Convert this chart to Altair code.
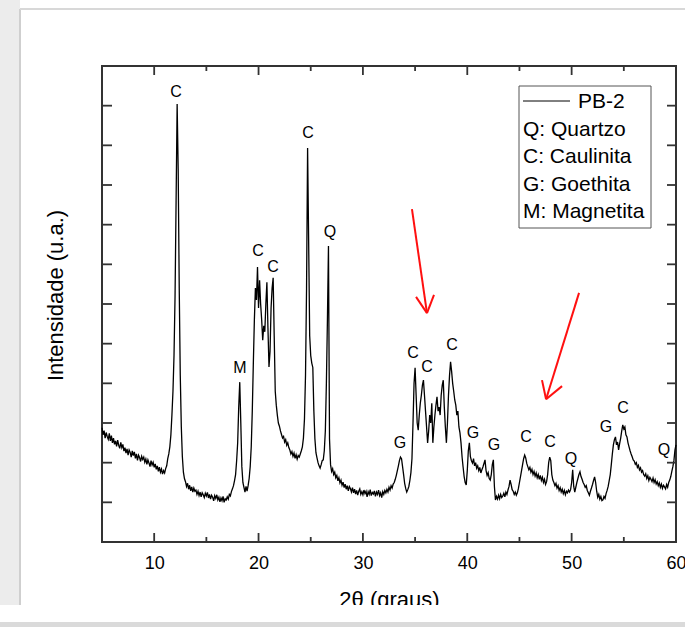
import altair as alt
import pandas as pd

# ---------------- data ----------------
# PB-2 diffractogram, intensity (counts, arbitrary) sampled every 0.1 deg 2-theta
seg_05 = [288, 270, 281, 262, 276, 266, 259, 274, 255, 268,
          250, 262, 246, 255, 241, 257, 244, 236, 251, 238,
          246, 229, 238, 224, 235, 219, 232, 226, 214, 230,
          218, 227, 211, 222, 206, 219, 213, 203, 216, 208,
          214, 201, 209, 196, 207, 199, 190, 205, 194, 201]
seg_10 = [188, 197, 183, 192, 178, 189, 176, 184, 171, 180,
          174, 185, 192, 210, 222, 240, 270, 320, 380, 470,
          620, 860, 1104, 940, 640, 420, 290, 215, 176, 160,
          152, 140, 148, 133, 143, 129, 139, 126, 136, 128,
          131, 120, 128, 117, 126, 114, 124, 119, 112, 123]
seg_15 = [116, 125, 111, 120, 108, 118, 113, 104, 117, 110,
          119, 106, 113, 101, 111, 104, 115, 100, 109, 106,
          114, 108, 120, 116, 127, 134, 142, 155, 170, 205,
          250, 340, 403, 300, 190, 150, 138, 126, 140, 128,
          142, 160, 190, 240, 330, 450, 560, 640, 610, 693]
seg_20 = [590, 660, 600, 560, 509, 545, 530, 600, 655, 540,
          441, 480, 590, 640, 666, 520, 380, 345, 320, 300,
          292, 280, 271, 262, 266, 252, 258, 244, 250, 238,
          232, 222, 228, 216, 224, 211, 220, 209, 218, 214,
          222, 230, 240, 262, 310, 420, 640, 993, 760, 520]
seg_25 = [470, 451, 440, 330, 260, 225, 212, 200, 192, 186,
          195, 205, 207, 230, 280, 400, 560, 746, 260, 195,
          178, 185, 170, 176, 162, 168, 154, 162, 149, 156,
          143, 151, 137, 146, 133, 142, 129, 140, 135, 126,
          137, 124, 133, 121, 130, 118, 128, 134, 120, 127]
seg_30 = [119, 131, 122, 128, 114, 127, 120, 132, 117, 125,
          121, 129, 115, 126, 120, 131, 117, 124, 112, 127,
          120, 130, 124, 133, 126, 138, 131, 142, 136, 146,
          150, 158, 168, 180, 192, 205, 214, 210, 190, 170,
          148, 135, 126, 132, 140, 155, 175, 210, 300, 400]
seg_35 = [439, 370, 300, 282, 320, 350, 370, 395, 408, 370,
          330, 290, 250, 280, 320, 300, 350, 250, 290, 320,
          345, 366, 330, 340, 320, 370, 395, 408, 340, 290,
          250, 300, 370, 420, 454, 430, 400, 380, 358, 345,
          320, 330, 290, 275, 250, 215, 189, 165, 150, 144]
seg_40 = [180, 230, 250, 215, 205, 199, 210, 192, 200, 186,
          192, 180, 188, 174, 182, 189, 198, 207, 180, 168,
          175, 160, 156, 170, 195, 207, 140, 106, 115, 108,
          118, 109, 120, 112, 116, 123, 114, 126, 120, 131,
          140, 156, 145, 132, 128, 120, 126, 118, 124, 135]
seg_45 = [150, 165, 180, 195, 210, 219, 212, 198, 190, 182,
          188, 176, 183, 170, 178, 166, 174, 162, 170, 158,
          168, 155, 163, 150, 158, 145, 152, 170, 200, 214,
          205, 170, 156, 150, 142, 148, 136, 142, 130, 137,
          126, 133, 122, 130, 119, 128, 124, 131, 126, 132]
seg_50 = [150, 182, 140, 126, 138, 150, 160, 170, 177, 165,
          158, 150, 145, 138, 142, 130, 124, 118, 128, 136,
          145, 155, 164, 150, 128, 113, 120, 108, 115, 104,
          106, 115, 110, 122, 130, 140, 155, 170, 195, 222,
          245, 258, 265, 245, 252, 232, 248, 262, 280, 295]
seg_55 = [285, 290, 270, 265, 250, 240, 230, 222, 215, 207,
          204, 196, 200, 188, 193, 182, 187, 176, 180, 170,
          166, 172, 160, 167, 155, 163, 158, 152, 161, 150,
          157, 146, 152, 142, 149, 138, 146, 135, 143, 139,
          134, 145, 138, 150, 156, 165, 178, 190, 205, 232]
seg_60 = [245]
scan_start = 5.0
scan_step = 0.1

# phase labels above the peaks
peak_letters = ["C", "C", "Q", "C", "C", "M", "G", "C", "C", "C",
                "G", "G", "C", "C", "Q", "G", "C", "Q"]
peak_x = [12.1, 24.74, 26.85, 19.95, 21.39, 18.22, 33.55, 34.8, 36.14, 38.54,
          40.55, 42.56, 45.63, 47.93, 49.94, 53.29, 54.92, 58.85]
peak_y = [1134, 1031, 781, 734, 693, 439, 250, 476, 441, 497,
          275, 245, 265, 252, 209, 290, 338, 232]

# red arrows (segments): shaft + two head strokes each
arrow_x = [34.70, 35.09, 36.81, 50.71, 47.16, 49.08]
arrow_y = [839, 618, 623, 628, 408, 393]
arrow_x2 = [36.14, 36.14, 36.14, 47.55, 47.55, 47.55]
arrow_y2 = [577, 577, 577, 360, 360, 360]

x_major = [10, 20, 30, 40, 50, 60]
x_minor = [15, 25, 35, 45, 55]
y_ticks = [100, 200, 300, 400, 500, 600, 700, 800, 900, 1000, 1100]

series_name = "PB-2"
legend_notes = ["Q: Quartzo", "C: Caulinita", "G: Goethita", "M: Magnetita"]

# ---------------- chart ----------------
W, H = 574, 476
FONT = "Liberation Sans"
INK = "#333333"

intensity = (seg_05 + seg_10 + seg_15 + seg_20 + seg_25 + seg_30 + seg_35
             + seg_40 + seg_45 + seg_50 + seg_55 + seg_60)
two_theta = [round(scan_start + i * scan_step, 1) for i in range(len(intensity))]

xscale = alt.Scale(domain=[5, 60], nice=False, zero=False)
yscale = alt.Scale(domain=[0, 1200], nice=False, zero=True)

xaxis = alt.Axis(values=x_major, format="d", labelFont=FONT, labelFontSize=18,
                 labelColor="black", labelPadding=12, labelFlush=False,
                 ticks=False, tickSize=0, domain=False, grid=False,
                 title="2θ (graus)", titleFont=FONT, titleFontSize=22,
                 titleFontWeight="normal", titleColor="black",
                 titleBaseline="alphabetic", titleY=64, zindex=0)
yaxis = alt.Axis(labels=False, ticks=False, tickSize=0, domain=False, grid=False,
                 title="Intensidade (u.a.)", titleFont=FONT, titleFontSize=22,
                 titleFontWeight="normal", titleColor="black",
                 titleBaseline="alphabetic", titleX=-40, titleY=229, zindex=0)


def X(field):
    return alt.X(field, type="quantitative", scale=xscale, axis=xaxis)


def Y(field):
    return alt.Y(field, type="quantitative", scale=yscale, axis=yaxis)


one = pd.DataFrame({"k": [0]})

scan = pd.DataFrame({"two_theta": two_theta, "intensity": intensity})
line = alt.Chart(scan).mark_line(color="black", strokeWidth=1.3).encode(
    x=X("two_theta"), y=Y("intensity"))

labels_df = pd.DataFrame({"two_theta": peak_x, "intensity": peak_y, "phase": peak_letters})
labels = alt.Chart(labels_df).mark_text(font=FONT, fontSize=16, color="black",
                                        baseline="middle", align="center").encode(
    x=X("two_theta"), y=Y("intensity"), text="phase:N")

arrows_df = pd.DataFrame({"two_theta": arrow_x, "intensity": arrow_y,
                          "x2": arrow_x2, "y2": arrow_y2})
arrows = alt.Chart(arrows_df).mark_rule(color="#ff1010", strokeWidth=2).encode(
    x=X("two_theta"), y=Y("intensity"), x2="x2:Q", y2="y2:Q")

# inward ticks on all four sides
xmaj = pd.DataFrame({"two_theta": x_major})
xmin = pd.DataFrame({"two_theta": x_minor})
yt = pd.DataFrame({"intensity": y_ticks})
tick_style = dict(color=INK, strokeWidth=1.8)
ticks = [
    alt.Chart(xmaj).mark_rule(**tick_style).encode(x=X("two_theta"), y=alt.value(H), y2=alt.value(H - 9)),
    alt.Chart(xmaj).mark_rule(**tick_style).encode(x=X("two_theta"), y=alt.value(0), y2=alt.value(9)),
    alt.Chart(xmin).mark_rule(**tick_style).encode(x=X("two_theta"), y=alt.value(H), y2=alt.value(H - 5)),
    alt.Chart(xmin).mark_rule(**tick_style).encode(x=X("two_theta"), y=alt.value(0), y2=alt.value(5)),
    alt.Chart(yt).mark_rule(**tick_style).encode(y=Y("intensity"), x=alt.value(0), x2=alt.value(10)),
    alt.Chart(yt).mark_rule(**tick_style).encode(y=Y("intensity"), x=alt.value(W), x2=alt.value(W - 9)),
]

# legend box
leg_box = alt.Chart(one).mark_rect(fill="white", stroke="#555555", strokeWidth=1).encode(
    x=alt.value(417), x2=alt.value(549), y=alt.value(20), y2=alt.value(162))
leg_line = alt.Chart(one).mark_rule(color="black", strokeWidth=1).encode(
    x=alt.value(421), x2=alt.value(468), y=alt.value(35))
leg_series = alt.Chart(one).mark_text(font=FONT, fontSize=21, align="left",
                                      baseline="middle", color="black").encode(
    x=alt.value(476), y=alt.value(36), text=alt.value(series_name))
leg_texts = [
    alt.Chart(one).mark_text(font=FONT, fontSize=21, align="left",
                             baseline="middle", color="black").encode(
        x=alt.value(421), y=alt.value(64 + 27.3 * i), text=alt.value(t))
    for i, t in enumerate(legend_notes)
]

# page edges of the scanned figure
page_cover = alt.Chart(one).mark_rect(fill="white").encode(
    x=alt.value(-102), x2=alt.value(W + 9), y=alt.value(539), y2=alt.value(556))
page_bottom = alt.Chart(one).mark_rect(fill="#dadada").encode(
    x=alt.value(-102), x2=alt.value(W + 9), y=alt.value(556), y2=alt.value(561))
page_left = alt.Chart(one).mark_rect(fill="#ececec").encode(
    x=alt.value(-102), x2=alt.value(-82), y=alt.value(-66), y2=alt.value(561))
page_left_edge = alt.Chart(one).mark_rule(color="#cfcfcf", strokeWidth=2).encode(
    x=alt.value(-82), y=alt.value(-57), y2=alt.value(556))
page_top_edge = alt.Chart(one).mark_rule(color="#d8d8d8", strokeWidth=2).encode(
    x=alt.value(-82), x2=alt.value(W + 9), y=alt.value(-57))

chart = alt.layer(
    page_left, page_left_edge, page_top_edge,
    line, *ticks, labels, arrows,
    leg_box, leg_line, leg_series, *leg_texts,
    page_cover, page_bottom,
).properties(
    width=W, height=H,
    padding={"left": 102, "top": 66, "right": 9, "bottom": 85},
    autosize=alt.AutoSizeParams(type="none"),
    background="white",
).configure_view(stroke=INK, strokeWidth=2)

chart.save("out.html", embed_options={"renderer": "svg", "actions": False})
